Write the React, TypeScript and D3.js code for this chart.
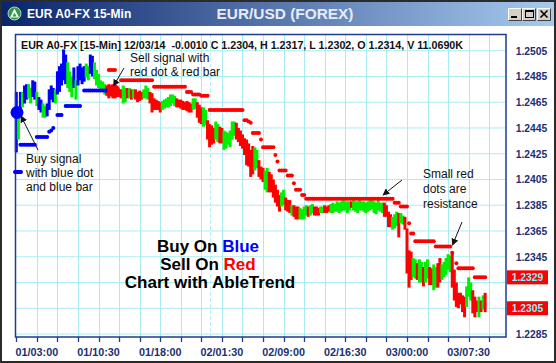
import React from "react";
import * as d3 from "d3";

// ---- chart data -------------------------------------------------------------

const sessionStart = new Date(2014, 11, 1, 0, 30);
const sessionEnd = new Date(2014, 11, 3, 12, 0);
const barMinutes = 15;
const tickMinutes = 150;

const priceTicks = [
  1.2505, 1.2485, 1.2465, 1.2445, 1.2425, 1.2405, 1.2385, 1.2365, 1.2345,
  1.2325, 1.2305, 1.2285,
];
const priceTags = [1.2329, 1.2305];

const highs = [
  1.2473, 1.2461, 1.2473, 1.2473, 1.2478, 1.2479, 1.2479, 1.2476, 1.2482, 1.2481,
  1.2473, 1.2469, 1.2467, 1.2464, 1.2462, 1.2464, 1.2475, 1.2478, 1.2476, 1.2475,
  1.2489, 1.2493, 1.2495, 1.2506, 1.2502, 1.2496, 1.2489, 1.2485, 1.2492, 1.2482,
  1.2493, 1.2495, 1.2492, 1.2493, 1.2495, 1.2493, 1.2502, 1.2501, 1.2496, 1.249,
  1.2487, 1.2482, 1.2481, 1.2479, 1.2478, 1.2479, 1.2478, 1.2476, 1.2478, 1.2476,
  1.2475, 1.2475, 1.2478, 1.2476, 1.2476, 1.2476, 1.2475, 1.2475, 1.2475, 1.2473,
  1.2474, 1.2473, 1.2475, 1.2478, 1.2476, 1.2473, 1.2472, 1.2468, 1.2467, 1.2466,
  1.2465, 1.2466, 1.2467, 1.2468, 1.2469, 1.2471, 1.2471, 1.247, 1.2468, 1.2467,
  1.2467, 1.2466, 1.2465, 1.2466, 1.2465, 1.2464, 1.2468, 1.2468, 1.2465, 1.2463,
  1.2461, 1.2461, 1.2459, 1.2451, 1.2448, 1.2447, 1.2445, 1.245, 1.2448, 1.2446,
  1.2445, 1.2443, 1.2442, 1.2441, 1.2443, 1.245, 1.245, 1.2449, 1.2445, 1.2443,
  1.244, 1.2437, 1.2436, 1.2433, 1.2428, 1.2431, 1.243, 1.2428, 1.242, 1.2415,
  1.2414, 1.2412, 1.2414, 1.2411, 1.2409, 1.2405, 1.2401, 1.2397, 1.2393, 1.2395,
  1.2397, 1.2391, 1.2389, 1.2389, 1.2385, 1.2385, 1.2384, 1.2384, 1.2383, 1.2382,
  1.2384, 1.2385, 1.2384, 1.2385, 1.2386, 1.2384, 1.2384, 1.2383, 1.2384, 1.2384,
  1.2385, 1.2384, 1.2385, 1.2386, 1.2387, 1.2386, 1.2388, 1.2387, 1.2388, 1.2389,
  1.2388, 1.2388, 1.2388, 1.2388, 1.2389, 1.2388, 1.2388, 1.2389, 1.2388, 1.2388,
  1.2387, 1.2388, 1.2389, 1.2389, 1.2388, 1.2387, 1.2389, 1.2387, 1.2387, 1.2387,
  1.2385, 1.238, 1.2378, 1.2376, 1.2378, 1.238, 1.2379, 1.2379, 1.2377, 1.2376,
  1.2367, 1.235, 1.2349, 1.2344, 1.2343, 1.234, 1.2343, 1.2341, 1.2337, 1.2341,
  1.2343, 1.2337, 1.2336, 1.2339, 1.2337, 1.234, 1.2344, 1.2339, 1.2341, 1.2344,
  1.2347, 1.2346, 1.2349, 1.2335, 1.2325, 1.2317, 1.2317, 1.2315, 1.2314, 1.2322,
  1.2329, 1.2325, 1.2319, 1.2314, 1.2311, 1.2314, 1.2311, 1.2315, 1.2317,
];

const lows = [
  1.2426, 1.2436, 1.2459, 1.2461, 1.2464, 1.2467, 1.2468, 1.2464, 1.2469, 1.2467,
  1.2462, 1.2459, 1.2457, 1.2453, 1.2453, 1.2454, 1.2459, 1.2467, 1.2465, 1.2464,
  1.2471, 1.2473, 1.2478, 1.2482, 1.2479, 1.2476, 1.2473, 1.2469, 1.2476, 1.2467,
  1.2478, 1.2482, 1.2479, 1.2481, 1.2484, 1.2482, 1.2487, 1.2485, 1.2483, 1.2478,
  1.2476, 1.2475, 1.2473, 1.2471, 1.247, 1.2468, 1.247, 1.2468, 1.2468, 1.2469,
  1.2469, 1.2468, 1.2464, 1.2465, 1.2468, 1.2468, 1.2467, 1.2468, 1.2467, 1.2465,
  1.2466, 1.2467, 1.2468, 1.2468, 1.2467, 1.2464, 1.2457, 1.2459, 1.2459, 1.2459,
  1.2457, 1.2459, 1.246, 1.2461, 1.2461, 1.2462, 1.2464, 1.2462, 1.2461, 1.2461,
  1.246, 1.2459, 1.2459, 1.2458, 1.2457, 1.2457, 1.2459, 1.246, 1.2453, 1.2449,
  1.2448, 1.2446, 1.2447, 1.2436, 1.243, 1.2432, 1.2433, 1.2436, 1.2434, 1.2433,
  1.2433, 1.2428, 1.2429, 1.2432, 1.243, 1.2436, 1.2439, 1.2436, 1.2434, 1.2431,
  1.2429, 1.2424, 1.2416, 1.2415, 1.2407, 1.2409, 1.2412, 1.2414, 1.2407, 1.2405,
  1.2403, 1.2397, 1.2395, 1.2395, 1.2395, 1.2391, 1.2387, 1.2384, 1.238, 1.2384,
  1.2385, 1.2381, 1.238, 1.2379, 1.2377, 1.2376, 1.2374, 1.2374, 1.2374, 1.2374,
  1.2374, 1.2377, 1.2376, 1.2377, 1.2379, 1.2377, 1.2377, 1.2377, 1.2379, 1.2379,
  1.2379, 1.2379, 1.238, 1.2379, 1.2379, 1.238, 1.238, 1.2379, 1.238, 1.2381,
  1.2381, 1.2379, 1.2381, 1.2383, 1.2381, 1.238, 1.2379, 1.2381, 1.2381, 1.238,
  1.2379, 1.238, 1.2381, 1.2382, 1.2379, 1.2378, 1.2381, 1.238, 1.2379, 1.2376,
  1.2376, 1.2368, 1.2368, 1.2366, 1.2367, 1.2369, 1.236, 1.2371, 1.237, 1.2366,
  1.2332, 1.2321, 1.2327, 1.2329, 1.2328, 1.2327, 1.2325, 1.2325, 1.2322, 1.2325,
  1.2328, 1.2323, 1.2323, 1.2319, 1.2321, 1.2321, 1.2325, 1.2327, 1.2329, 1.2331,
  1.2335, 1.2333, 1.2321, 1.2311, 1.2306, 1.2305, 1.2308, 1.2302, 1.2298, 1.2306,
  1.2314, 1.2311, 1.2301, 1.2298, 1.2302, 1.2298, 1.2302, 1.2304, 1.2302,
];

// AbleTrend colour per bar: B = blue (up), G = green (neutral), R = red (down)
const trend =
  "BGBGBBGGBBGBBGGBBBBG" +
  "BBBBBGGGBGBBBBGGBBGG" +
  "GGGGRRRRRRRRGGRGRGRR" +
  "RRGGGRRRRRRGGGGGGGRR" +
  "RRRRRRGGRRRGGRRRRGGR" +
  "RGGGGGGRRRRRRRRRGGRR" +
  "RGGRRRRRRGGRRRGRRRGG" +
  "GGRGGRRRGGRRRGGGGGGG" +
  "GGGRGGGGGGGGGGGGGGGR" +
  "RRRGGGRGGRRRRGGRGGRG" +
  "GRRGGRRGGGGGRRRRRRRG" +
  "GGRRRGRGR";

// Stop levels held from bar a to bar b: [a, b, price]
const supportRuns: [number, number, number][] = [
  [2, 9, 1.2432], [10, 15, 1.2438], [16, 16, 1.2442], [17, 17, 1.2443],
  [18, 18, 1.2445], [20, 22, 1.2455], [24, 31, 1.2462], [33, 44, 1.2474],
];
const resistanceRuns: [number, number, number][] = [
  [45, 48, 1.249], [51, 66, 1.2482], [67, 82, 1.2477], [83, 85, 1.2473],
  [86, 89, 1.2471], [90, 93, 1.247], [94, 110, 1.2459], [111, 112, 1.2451],
  [113, 113, 1.245], [114, 114, 1.2449], [115, 118, 1.2441], [119, 119, 1.2436],
  [120, 125, 1.243], [126, 126, 1.2424], [127, 127, 1.2419], [128, 131, 1.2412],
  [132, 134, 1.2408], [135, 135, 1.2402], [136, 138, 1.2397], [139, 140, 1.2393],
  [141, 183, 1.239], [184, 186, 1.2387], [187, 190, 1.2384], [191, 191, 1.2371],
  [192, 193, 1.2363], [194, 203, 1.2357], [204, 211, 1.2353], [212, 212, 1.2348],
  [214, 214, 1.234], [215, 222, 1.2336], [223, 228, 1.2329],
];

const signalBars = [0, 47];
const signalPrices = [1.2457, 1.2474];
const signalKinds = ["buy", "sell"];

const headerText =
  "EUR A0-FX [15-Min] 12/03/14  -0.0010 C 1.2304, H 1.2317, L 1.2302, O 1.2314, V 11.0690K";

// ---- layout -----------------------------------------------------------------

const W = 556;
const H = 363;
const plot = { left: 15.5, right: 506, top: 34.5, bottom: 337 };
const barColor: Record<string, string> = { B: "#0000ff", G: "#00ee00", R: "#ff0000" };
const gridColor = "#a9edf2";
const navy = "#1b2f72";
const FONT = "'Liberation Sans', Arial, Helvetica, sans-serif";

export default function App() {
  const x = d3.scaleTime().domain([sessionStart, sessionEnd]).range([16.3, 505.7]);
  const y = d3.scaleLinear().domain([1.2285, 1.2505]).range([334, 50.7]);
  const barTime = (i: number) => d3.timeMinute.offset(sessionStart, i * barMinutes);
  const bx = (i: number) => x(barTime(i));

  const tickTimes = d3
    .range(0, 24)
    .map((k) => d3.timeMinute.offset(sessionStart, k * tickMinutes));
  const dayBreaks = d3.timeDay.range(d3.timeDay.ceil(sessionStart), sessionEnd);
  const fmt = d3.timeFormat("%d/%H:%M");

  const dotsFrom = (runs: [number, number, number][]) =>
    runs.flatMap(([a, b, p]) => d3.range(a, b + 1).map((i) => ({ i, p })));
  const support = dotsFrom(supportRuns);
  const resistance = dotsFrom(resistanceRuns);

  const shownTicks = priceTicks.filter(
    (v) => !priceTags.some((t) => Math.abs(y(t) - y(v)) < 12)
  );

  const btn = (bx0: number, kind: string) => (
    <g key={kind}>
      <rect x={bx0} y={8} width={14} height={13} fill="#d4d0c8" />
      <path d={`M${bx0 + 0.5},${20.5} V${8.5} H${bx0 + 13.5}`} stroke="#ffffff" fill="none" />
      <path d={`M${bx0 + 0.5},${20.5} H${bx0 + 13.5} V${8.5}`} stroke="#404040" fill="none" />
      {kind === "min" && <rect x={bx0 + 3} y={16} width={6} height={2} fill="#000" />}
      {kind === "max" && (
        <g>
          <rect x={bx0 + 3.5} y={10.5} width={8} height={7} fill="none" stroke="#000" />
          <rect x={bx0 + 3.5} y={10.5} width={8} height={1.5} fill="#000" />
        </g>
      )}
      {kind === "close" && (
        <path
          d={`M${bx0 + 3.5},${10.5} L${bx0 + 10.5},${17.5} M${bx0 + 10.5},${10.5} L${bx0 + 3.5},${17.5}`}
          stroke="#000"
          strokeWidth={1.6}
        />
      )}
    </g>
  );

  return (
    <svg
      width={W}
      height={H}
      viewBox={`0 0 ${W} ${H}`}
      style={{ position: "absolute", left: 0, top: 0, display: "block" }}
      fontFamily={FONT}
    >
      <defs>
        <linearGradient id="titleGrad" x1="0" x2="1" y1="0" y2="0">
          <stop offset="0" stopColor="#0a246a" />
          <stop offset="1" stopColor="#a6caf0" />
        </linearGradient>
        <marker
          id="arrowHead"
          viewBox="0 0 10 10"
          refX="9"
          refY="5"
          markerWidth="7"
          markerHeight="7"
          markerUnits="userSpaceOnUse"
          orient="auto"
        >
          <path d="M0,0 L10,5 L0,10 z" fill="#111" />
        </marker>
      </defs>

      {/* window frame */}
      <rect x={0} y={0} width={W} height={H} fill="#2b2b2b" />
      <rect x={2} y={2} width={W - 4} height={H - 4} fill="#ffffff" />
      <rect x={2} y={2} width={W - 4} height={24} fill="url(#titleGrad)" />

      {/* title bar */}
      <g>
        <circle cx={14.5} cy={13.5} r={6.5} fill="#2f9a4c" stroke="#d8f0dc" strokeWidth={0.8} />
        <path d="M14.5,8.5 L19,17.5 L10,17.5 Z" fill="#ffffff" />
        <path d="M14.5,12.5 L16.5,16.5 L12.5,16.5 Z" fill="#2f9a4c" />
        <text x={27} y={18} fill="#ffffff" fontWeight="bold" fontSize={12}>
          EUR A0-FX 15-Min
        </text>
        <text x={285} y={19} fill="#e6ecf6" fontWeight="bold" fontSize={15.4} textAnchor="middle">
          EUR/USD (FOREX)
        </text>
        {btn(508, "min")}
        {btn(522, "max")}
        {btn(537, "close")}
      </g>

      {/* grid */}
      <g>
        {priceTicks.map((v) => (
          <line key={v} x1={plot.left} x2={plot.right} y1={y(v)} y2={y(v)} stroke={gridColor} strokeWidth={1} />
        ))}
        {tickTimes.slice(1).map((t) => (
          <line
            key={+t}
            x1={Math.round(x(t)) + 0.5}
            x2={Math.round(x(t)) + 0.5}
            y1={plot.top}
            y2={plot.bottom}
            stroke={gridColor}
            strokeWidth={1}
          />
        ))}
        {dayBreaks.map((t) => (
          <line
            key={+t}
            x1={Math.round(x(t)) + 0.5}
            x2={Math.round(x(t)) + 0.5}
            y1={plot.top}
            y2={plot.bottom}
            stroke={gridColor}
            strokeWidth={1}
            strokeDasharray="3,3"
          />
        ))}
      </g>

      {/* price bars */}
      <g>
        {highs.map((hi, i) => (
          <rect
            key={i}
            x={bx(i) - 1.5}
            y={y(hi)}
            width={3}
            height={Math.max(1.5, y(lows[i]) - y(hi))}
            fill={barColor[trend[i]]}
          />
        ))}
      </g>

      {/* support / resistance dots */}
      <g>
        {support.map((d) => (
          <circle key={`s${d.i}`} cx={bx(d.i)} cy={y(d.p)} r={2} fill="#0000ff" />
        ))}
        {resistance.map((d) => (
          <circle key={`r${d.i}`} cx={bx(d.i)} cy={y(d.p)} r={2} fill="#ff0000" />
        ))}
      </g>

      {/* plot border */}
      <rect
        x={plot.left}
        y={plot.top}
        width={plot.right - plot.left}
        height={plot.bottom - plot.top}
        fill="none"
        stroke="#1e3c8c"
        strokeWidth={1.5}
      />

      {/* signal dots */}
      <g>
        {signalBars.map((b, k) => (
          <circle
            key={b}
            cx={bx(b) + 0.7}
            cy={y(signalPrices[k])}
            r={6.5}
            fill={signalKinds[k] === "buy" ? "#0000ff" : "#ff0000"}
          />
        ))}
      </g>

      {/* header */}
      <text x={21} y={48.8} fontSize={10.7} fontWeight="bold" fill="#111" style={{ whiteSpace: "pre" }}>
        {headerText}
      </text>

      {/* price axis */}
      <g>
        {shownTicks.map((v) => (
          <text key={v} x={531.5} y={y(v) + 3.8} textAnchor="middle" fontSize={10.3} fontWeight="bold" fill={navy}>
            {v.toFixed(4)}
          </text>
        ))}
        {priceTags.map((v) => (
          <g key={v}>
            <rect x={507} y={y(v) - 7} width={41} height={14} fill="#ff0000" />
            <text x={527.5} y={y(v) + 3.8} textAnchor="middle" fontSize={10.3} fontWeight="bold" fill="#7ff4ff">
              {v.toFixed(4)}
            </text>
          </g>
        ))}
      </g>

      {/* time axis */}
      <g>
        {tickTimes.map((t) => (
          <line
            key={+t}
            x1={Math.round(x(t)) + 0.5}
            x2={Math.round(x(t)) + 0.5}
            y1={plot.bottom}
            y2={plot.bottom + 5}
            stroke="#1e3c8c"
            strokeWidth={1.3}
          />
        ))}
        {tickTimes
          .filter((_, k) => k % 3 === 1)
          .map((t) => (
            <text key={+t} x={x(t)} y={356} textAnchor="middle" fontSize={10.8} fontWeight="bold" fill={navy}>
              {fmt(t)}
            </text>
          ))}
      </g>

      {/* annotations */}
      <g fontSize={12} fill="#111">
        <text x={130} y={62.3}>Sell signal with</text>
        <text x={130} y={76}>red dot &amp; red bar</text>
        <line x1={124} y1={68} x2={113.5} y2={86} stroke="#111" strokeWidth={1} markerEnd="url(#arrowHead)" />

        <text x={26} y={163}>Buy signal</text>
        <text x={26} y={177}>with blue dot</text>
        <text x={26} y={191}>and blue bar</text>
        <line x1={15} y1={172} x2={21} y2={172} stroke="#0000ff" strokeWidth={4} strokeLinecap="round" />
        <line x1={38} y1={150} x2={21} y2={116} stroke="#111" strokeWidth={1} markerEnd="url(#arrowHead)" />

        <text x={423} y={178}>Small red</text>
        <text x={423} y={193}>dots are</text>
        <text x={423} y={208}>resistance</text>
        <line x1={402} y1={180} x2={383} y2={195} stroke="#111" strokeWidth={1} markerEnd="url(#arrowHead)" />
        <line x1={462} y1={222} x2={452.5} y2={245} stroke="#111" strokeWidth={1} markerEnd="url(#arrowHead)" />
      </g>

      <g fontSize={17} fontWeight="bold" textAnchor="middle" fill="#000">
        <text x={208} y={252}>
          Buy On <tspan fill="#0000ff">Blue</tspan>
        </text>
        <text x={208} y={270}>
          Sell On <tspan fill="#ff0000">Red</tspan>
        </text>
        <text x={210} y={288}>Chart with AbleTrend</text>
      </g>
    </svg>
  );
}
